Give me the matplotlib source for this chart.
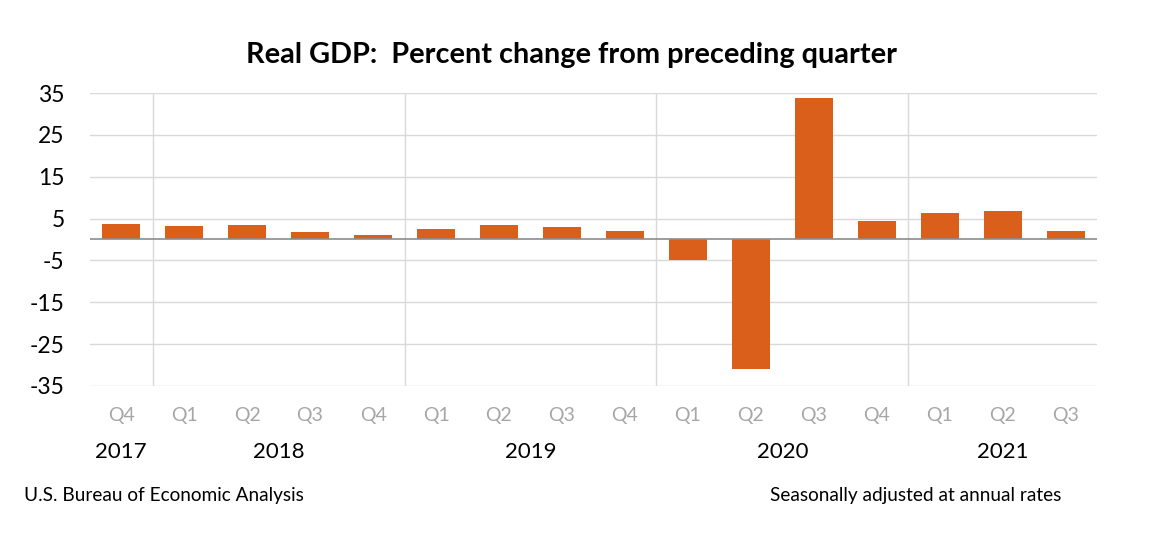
import matplotlib.pyplot as plt
import numpy as np

quarters = ['Q4', 'Q1', 'Q2', 'Q3', 'Q4', 'Q1', 'Q2', 'Q3', 'Q4',
            'Q1', 'Q2', 'Q3', 'Q4', 'Q1', 'Q2', 'Q3']
gdp_change = [3.8, 3.1, 3.5, 1.9, 1.0, 2.4, 3.4, 2.9, 2.0,
              -5.0, -31.0, 33.8, 4.5, 6.3, 6.7, 2.0]
years = ['2017', '2018', '2019', '2020', '2021']
year_pos = [0, 2.5, 6.5, 10.5, 14]
year_breaks = [0.5, 4.5, 8.5, 12.5]
yticks = [35, 25, 15, 5, -5, -15, -25, -35]

plt.rcParams['font.family'] = ['Lato', 'DejaVu Sans']

fig = plt.figure(figsize=(11.49, 5.33), dpi=100)
ax = fig.add_axes([0.078, 0.276, 0.877, 0.5495])

x = np.arange(len(gdp_change))
ax.bar(x, gdp_change, width=0.6, color='#D95F1B', zorder=3)

ax.set_xlim(-0.5, len(gdp_change) - 0.5)
ax.set_ylim(-35, 35)
ax.set_yticks(yticks)
ax.set_yticklabels([str(v) for v in yticks], fontsize=16.5)
ax.tick_params(axis='y', length=0, pad=18)
ax.yaxis.grid(True, color='#d9d9d9', linewidth=1, zorder=0)
ax.axhline(0, color='#8c8c8c', linewidth=1.2, zorder=4)
for b in year_breaks:
    ax.axvline(b, color='#d9d9d9', linewidth=1, zorder=0)

ax.set_xticks(x)
ax.set_xticklabels(quarters, fontsize=14, color='#a6a6a6')
ax.tick_params(axis='x', length=0, pad=15)
for s in ax.spines.values():
    s.set_visible(False)

for yr, p in zip(years, year_pos):
    ax.text(p, -50.7, yr, ha='center', va='center', fontsize=16,
            transform=ax.transData, clip_on=False)

fig.text(0.497, 0.897, 'Real GDP:  Percent change from preceding quarter',
         ha='center', va='center', fontsize=20.8, fontweight='bold')
fig.text(0.021, 0.07, 'U.S. Bureau of Economic Analysis', ha='left',
         va='center', fontsize=13.7)
fig.text(0.924, 0.07, 'Seasonally adjusted at annual rates', ha='right',
         va='center', fontsize=13.7)

fig.savefig('out.png', dpi=100)
